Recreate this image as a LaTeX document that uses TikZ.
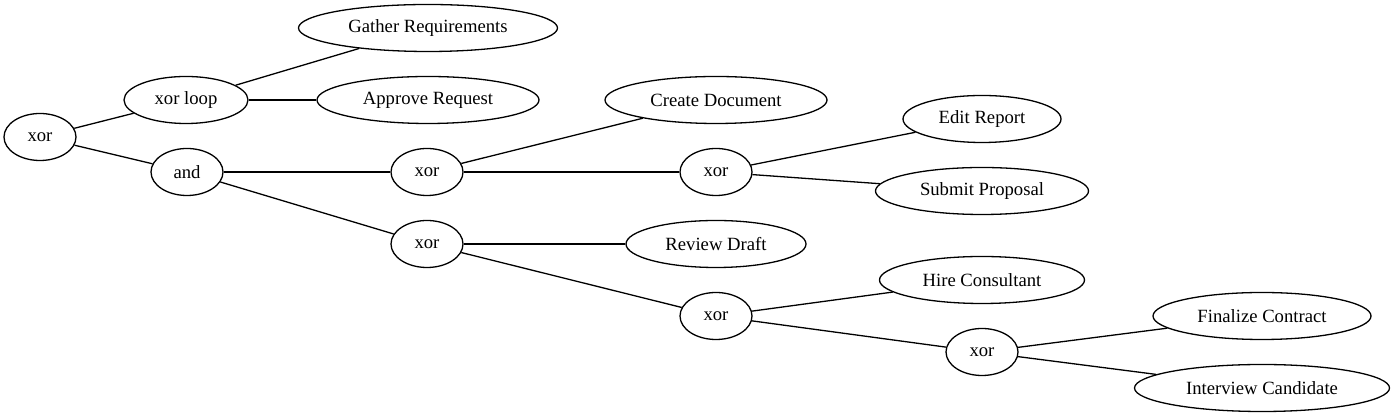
\documentclass[tikz,border=0pt]{standalone}
\usepackage{fontspec}
\setmainfont{Liberation Serif}
\usetikzlibrary{shapes.geometric}
\begin{document}
\begin{tikzpicture}[x=1pt,y=1pt,
  nd/.style={ellipse,draw,line width=1.3pt,inner sep=0pt,minimum height=47pt,
    font=\fontsize{18.67}{22}\selectfont},
  ln/.style={line width=1.3pt}]
\useasboundingbox (0,0) rectangle (1396,419);
\node[nd,minimum width=72pt]  (root) at (40,282) {xor};
\node[nd,minimum width=124pt] (loop) at (186,319) {xor loop};
\node[nd,minimum width=259pt] (gr)   at (428,391) {Gather Requirements};
\node[nd,minimum width=222pt] (ar)   at (428,319) {Approve Request};
\node[nd,minimum width=72pt]  (and)  at (187,247) {and};
\node[nd,minimum width=72pt]  (x2a)  at (427,247) {xor};
\node[nd,minimum width=72pt]  (x2b)  at (427,175) {xor};
\node[nd,minimum width=222pt] (cd)   at (716,319) {Create Document};
\node[nd,minimum width=72pt]  (x3a)  at (716,247) {xor};
\node[nd,minimum width=180pt] (rd)   at (716,175) {Review Draft};
\node[nd,minimum width=72pt]  (x3b)  at (716,103) {xor};
\node[nd,minimum width=158pt] (er)   at (982,300) {Edit Report};
\node[nd,minimum width=213pt] (sp)   at (982,228) {Submit Proposal};
\node[nd,minimum width=205pt] (hc)   at (982,139) {Hire Consultant};
\node[nd,minimum width=72pt]  (x4)   at (982,67)  {xor};
\node[nd,minimum width=218pt] (fc)   at (1262,103) {Finalize Contract};
\node[nd,minimum width=255pt] (ic)   at (1262,31)  {Interview Candidate};
\draw[ln] (root) -- (loop);
\draw[ln] (root) -- (and);
\draw[ln] (loop) -- (gr);
\draw[ln] (loop) -- (ar);
\draw[ln] (and) -- (x2a);
\draw[ln] (and) -- (x2b);
\draw[ln] (x2a) -- (cd);
\draw[ln] (x2a) -- (x3a);
\draw[ln] (x2b) -- (rd);
\draw[ln] (x2b) -- (x3b);
\draw[ln] (x3a) -- (er);
\draw[ln] (x3a) -- (sp);
\draw[ln] (x3b) -- (hc);
\draw[ln] (x3b) -- (x4);
\draw[ln] (x4) -- (fc);
\draw[ln] (x4) -- (ic);
\end{tikzpicture}
\end{document}
